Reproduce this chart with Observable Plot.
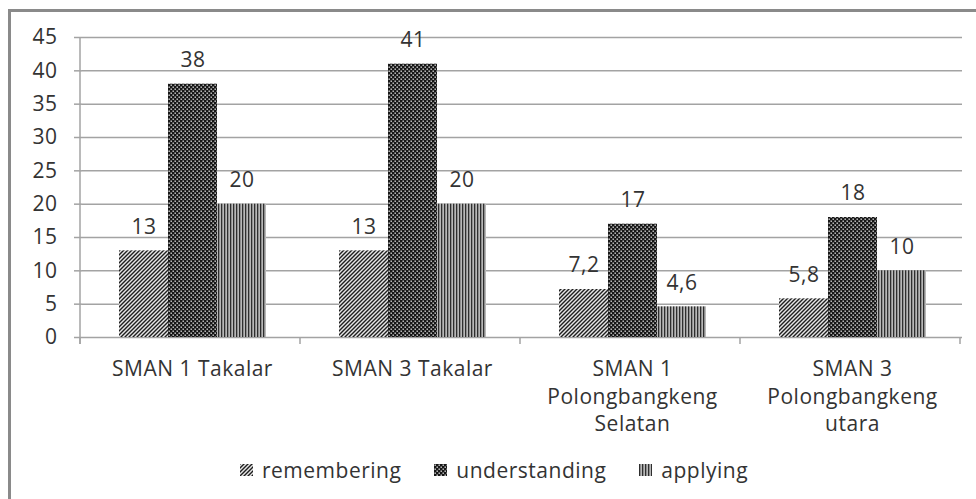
<!DOCTYPE html>
<html>
<head>
<meta charset="utf-8">
<script src="https://cdn.jsdelivr.net/npm/d3@7"></script>
<script src="https://cdn.jsdelivr.net/npm/@observablehq/plot@0.6"></script>
<style>
  html, body { margin: 0; padding: 0; background: #fff; overflow: hidden; }
  #page { position: relative; width: 976px; height: 499px; overflow: hidden; font-family: "Open Sans", sans-serif; }
  #border { position: absolute; left: 8px; top: 9px; width: 1100px; height: 700px; border: 3px solid #8a8a8a; box-sizing: border-box; }
  #chart { position: absolute; left: 0; top: 0; }
  #legend { position: absolute; left: 240px; top: 457px; display: flex; align-items: center; gap: 33px;
            font-size: 21px; letter-spacing: 0.5px; color: #333; line-height: 26px; white-space: nowrap; }
  #legend .item { display: flex; align-items: center; gap: 9px; }
  #legend svg { display: block; }
</style>
</head>
<body>
<div id="page">
  <div id="border"></div>
  <div id="chart"></div>
  <div id="legend"></div>
</div>
<script>
// ---- data ----
const schools = ["SMAN 1 Takalar", "SMAN 3 Takalar", "SMAN 1\nPolongbangkeng\nSelatan", "SMAN 3\nPolongbangkeng\nutara"];
const series = ["remembering", "understanding", "applying"];
const remembering = [13, 13, 7.2, 5.8];
const understanding = [38, 41, 17, 18];
const applying = [20, 20, 4.6, 10];
const yTicks = [0, 5, 10, 15, 20, 25, 30, 35, 40, 45];

const valuesBySeries = {remembering, understanding, applying};
const patternIds = {remembering: "pat-rem", understanding: "pat-und", applying: "pat-app"};
const data = schools.flatMap((school, i) =>
  series.map(s => ({school, series: s, value: valuesBySeries[s][i]}))
);
const fmt = v => String(v).replace(".", ",");

const gridColor = "#a3a3a3";
const textColor = "#333";

const plot = Plot.plot({
  width: 976,
  height: 440,
  marginTop: 37,
  marginLeft: 80,
  marginRight: 13,
  marginBottom: 103,
  style: {fontFamily: "Open Sans, sans-serif", fontSize: "21px", color: textColor, background: "transparent", overflow: "visible", letterSpacing: "0.5px"},
  fx: {domain: schools, padding: 0, label: null},
  x: {domain: series, paddingInner: 0, paddingOuter: 0.73, axis: null},
  y: {domain: [0, 45], axis: null},
  color: {domain: series, range: series.map(s => `url(#${patternIds[s]})`)},
  marks: [
    Plot.gridY(yTicks, {stroke: gridColor, strokeOpacity: 1, strokeWidth: 1.5}),
    Plot.axisY(yTicks, {tickSize: 8, tickPadding: 17, stroke: gridColor, strokeWidth: 1.5, fill: textColor, fontSize: 21, label: null}),
    Plot.axisFx({anchor: "bottom", tickSize: 0, tickPadding: 19, lineHeight: 1.31, fontSize: 21, fill: textColor, label: null}),
    Plot.barY(data, {fx: "school", x: "series", y: "value", fill: "series"}),
    Plot.text(data, {fx: "school", x: "series", y: "value", text: d => fmt(d.value), dy: -24, fontSize: 21, fill: textColor})
  ]
});

// pattern definitions inside the chart's SVG
const svg = d3.select(plot);
const defs = svg.insert("defs", ":first-child");
const pr = defs.append("pattern").attr("id", "pat-rem").attr("patternUnits", "userSpaceOnUse").attr("width", 4).attr("height", 4);
pr.append("rect").attr("width", 4).attr("height", 4).attr("fill", "#e6e6e6");
pr.append("path").attr("d", "M-1,1 l2,-2 M0,4 l4,-4 M3,5 l2,-2").attr("stroke", "#1e1e1e").attr("stroke-width", 1.4);
const pu = defs.append("pattern").attr("id", "pat-und").attr("patternUnits", "userSpaceOnUse").attr("width", 4).attr("height", 4);
pu.append("rect").attr("width", 4).attr("height", 4).attr("fill", "#161616");
pu.append("rect").attr("x", 0.5).attr("y", 0.5).attr("width", 1.4).attr("height", 1.4).attr("fill", "#d8d8d8");
pu.append("rect").attr("x", 2.5).attr("y", 2.5).attr("width", 1.4).attr("height", 1.4).attr("fill", "#d8d8d8");
const pa = defs.append("pattern").attr("id", "pat-app").attr("patternUnits", "userSpaceOnUse").attr("width", 3).attr("height", 3);
pa.append("rect").attr("width", 3).attr("height", 3).attr("fill", "#b8b8b8");
pa.append("rect").attr("x", 0).attr("width", 1.3).attr("height", 3).attr("fill", "#2e2e2e");

// axis line and category separator ticks, positioned with the plot's own scales
const fxS = plot.scale("fx");
const yS = plot.scale("y");
const y0 = yS.apply(0);
const yTop = yS.apply(45);
const step = fxS.step ?? fxS.bandwidth;
const g = svg.append("g").attr("stroke", gridColor).attr("stroke-width", 1.5);
g.append("line").attr("x1", fxS.range[0]).attr("x2", fxS.range[0]).attr("y1", yTop).attr("y2", y0 + 7);
for (let i = 0; i <= schools.length; i++) {
  const x = fxS.range[0] + i * step;
  g.append("line").attr("x1", x).attr("x2", x).attr("y1", y0).attr("y2", y0 + 7);
}

document.getElementById("chart").appendChild(plot);

// legend
const legend = d3.select("#legend");
series.forEach(s => {
  const item = legend.append("div").attr("class", "item");
  const sw = item.append("svg").attr("width", 13).attr("height", 12);
  sw.append("rect").attr("width", 13).attr("height", 12).attr("fill", `url(#${patternIds[s]})`);
  item.append("span").text(s);
});
</script>
</body>
</html>
